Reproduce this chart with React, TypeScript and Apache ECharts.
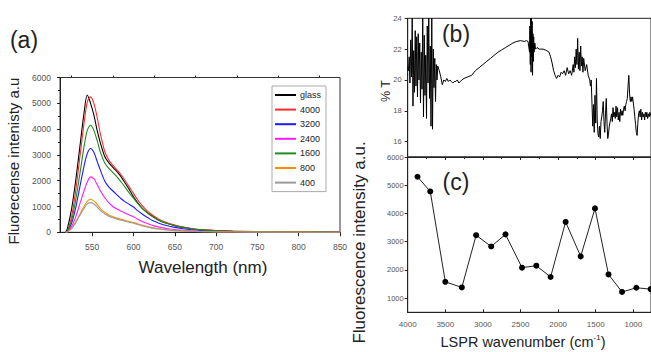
import React, { useEffect, useRef } from "react";
import * as echarts from "echarts";

// ---------- (a) fluorescence spectra ----------
const wavelength = [518, 520, 525, 530, 535, 540, 544, 548, 552, 556, 560, 565, 570, 575, 580, 585, 590, 595, 600, 605, 610, 615, 620, 625, 630, 640, 650, 660, 670, 680, 690, 700, 720, 750, 800, 850];
const glass = [0, 150, 900, 2000, 3300, 4600, 5320, 5000, 4550, 3950, 3450, 2950, 2700, 2520, 2350, 2150, 1900, 1650, 1380, 1150, 950, 800, 680, 580, 480, 350, 260, 190, 140, 100, 80, 60, 40, 25, 15, 10];
const s4000 = [0, 50, 600, 1600, 2900, 4200, 5050, 5250, 5000, 4450, 3800, 3150, 2800, 2600, 2420, 2230, 2000, 1750, 1510, 1260, 1050, 880, 740, 620, 520, 380, 280, 200, 150, 110, 85, 65, 45, 30, 20, 15];
const s3200 = [0, 30, 350, 950, 1750, 2550, 3050, 3250, 3100, 2750, 2400, 2000, 1760, 1600, 1450, 1300, 1180, 1080, 980, 840, 720, 610, 510, 430, 360, 260, 190, 140, 100, 75, 55, 45, 30, 20, 12, 8];
const s2400 = [0, 20, 220, 600, 1100, 1600, 1950, 2150, 2080, 1850, 1600, 1350, 1150, 1000, 900, 820, 740, 670, 600, 510, 430, 360, 300, 250, 210, 150, 110, 80, 60, 45, 35, 28, 20, 12, 8, 5];
const s1600 = [0, 40, 450, 1250, 2250, 3300, 3950, 4150, 3950, 3550, 3100, 2700, 2480, 2320, 2150, 1950, 1740, 1520, 1320, 1120, 950, 800, 680, 570, 480, 350, 260, 190, 140, 105, 80, 60, 40, 28, 18, 12];
const s800 = [0, 15, 150, 400, 700, 1000, 1200, 1280, 1220, 1080, 920, 780, 670, 600, 550, 500, 460, 420, 380, 330, 280, 240, 200, 170, 140, 100, 75, 55, 40, 30, 22, 18, 12, 8, 5, 3];
const s400 = [0, 15, 140, 370, 650, 920, 1100, 1150, 1100, 980, 840, 720, 620, 560, 510, 470, 430, 390, 350, 300, 255, 215, 180, 150, 125, 90, 65, 48, 35, 26, 20, 15, 10, 6, 4, 2];
const specNames = ["glass", "4000", "3200", "2400", "1600", "800", "400"];
const specValues = [glass, s4000, s3200, s2400, s1600, s800, s400];
const specColors = ["#000000", "#ff2a2a", "#1a1aff", "#ff1aff", "#1e8c1e", "#ff8c00", "#9a9a9a"];
const aTicks = [550, 600, 650, 700, 750, 800, 850];
const aMinorTicks = [525, 575, 625, 675, 725, 775, 825];

// ---------- (b) %T spectrum ----------
const ftirWn = [4000, 3990, 3980, 3970, 3960, 3950, 3940, 3930, 3920, 3910, 3900, 3890, 3880, 3870, 3860, 3850, 3840, 3830, 3820, 3810, 3800, 3790, 3780, 3770, 3760, 3750, 3740, 3730, 3720, 3710, 3700, 3690, 3680, 3670, 3660, 3650, 3640, 3630, 3620, 3610, 3600, 3580, 3560, 3540, 3520, 3500, 3480, 3460, 3440, 3420, 3400, 3380, 3360, 3340, 3320, 3300, 3280, 3250, 3200, 3150, 3100, 3050, 3000, 2950, 2900, 2850, 2800, 2750, 2700, 2650, 2600, 2550, 2500, 2450, 2420, 2400, 2380, 2375, 2370, 2365, 2360, 2355, 2350, 2345, 2340, 2335, 2330, 2325, 2320, 2310, 2300, 2280, 2250, 2200, 2150, 2120, 2100, 2080, 2060, 2040, 2020, 2000, 1980, 1960, 1940, 1920, 1900, 1880, 1860, 1840, 1820, 1800, 1790, 1780, 1770, 1760, 1750, 1740, 1730, 1720, 1710, 1700, 1690, 1680, 1670, 1660, 1640, 1620, 1600, 1580, 1570, 1560, 1550, 1540, 1530, 1520, 1510, 1500, 1490, 1480, 1470, 1460, 1450, 1440, 1430, 1420, 1410, 1400, 1390, 1380, 1370, 1360, 1350, 1340, 1330, 1320, 1300, 1290, 1280, 1270, 1260, 1250, 1240, 1230, 1220, 1210, 1200, 1190, 1180, 1170, 1160, 1150, 1140, 1130, 1120, 1110, 1100, 1090, 1080, 1070, 1060, 1050, 1040, 1030, 1020, 1010, 1000, 990, 980, 970, 960, 950, 940, 930, 920, 910, 900, 890, 880, 870, 860, 850, 840, 830, 820, 810, 800, 790, 780, 770, 760];
const ftirT = [20.8, 20.6, 21.5, 19.8, 22.6, 20.2, 24.0, 18.3, 21.9, 19.2, 23.2, 19.6, 22.8, 18.9, 23.0, 20.0, 22.4, 18.5, 21.8, 19.4, 24.0, 17.6, 22.9, 19.0, 21.6, 17.5, 23.5, 19.8, 24.0, 18.8, 22.2, 17.0, 24.0, 16.8, 22.0, 19.5, 21.4, 18.6, 21.0, 20.0, 20.9, 20.6, 20.2, 19.7, 20.0, 19.9, 20.1, 19.9, 20.0, 19.9, 19.8, 19.9, 19.9, 20.0, 19.8, 19.9, 20.0, 20.1, 20.2, 20.3, 20.6, 20.8, 21.0, 21.2, 21.4, 21.6, 21.8, 21.95, 22.1, 22.25, 22.4, 22.5, 22.55, 22.5, 22.55, 22.5, 21.8, 23.5, 21.0, 24.0, 20.5, 24.0, 21.5, 23.8, 20.3, 23.0, 21.2, 22.8, 21.8, 22.4, 22.0, 22.1, 22.0, 22.0, 21.9, 21.8, 21.5, 21.1, 20.6, 20.3, 20.1, 20.3, 20.2, 20.5, 20.4, 20.6, 20.3, 20.8, 20.4, 20.6, 20.3, 21.0, 20.5, 21.5, 20.8, 22.0, 21.0, 22.7, 20.7, 21.8, 20.6, 22.2, 20.9, 21.5, 20.5, 21.4, 20.6, 21.0, 20.3, 20.0, 19.6, 20.0, 18.5, 17.0, 18.4, 16.6, 19.0, 17.2, 20.1, 17.4, 16.5, 16.3, 17.0, 16.2, 17.3, 17.6, 18.0, 18.6, 17.3, 16.6, 17.8, 18.8, 17.2, 16.2, 16.5, 17.0, 17.5, 17.8, 17.3, 18.2, 17.6, 17.9, 17.5, 18.3, 17.6, 18.2, 17.4, 17.9, 17.3, 18.1, 17.7, 18.0, 17.7, 18.1, 18.3, 18.0, 18.4, 18.6, 18.8, 19.6, 20.3, 19.1, 18.6, 18.9, 18.6, 18.9, 18.5, 18.1, 17.6, 17.1, 16.6, 16.4, 17.2, 17.8, 18.0, 17.6, 18.1, 17.4, 17.9, 17.6, 17.8, 17.4, 17.9, 17.6, 17.9, 17.5, 17.8, 17.6, 17.9, 17.7, 17.8];
const bTicks = [16, 18, 20, 22, 24];

// ---------- (c) intensity vs LSPR wavenumber ----------
const lsprWn = [3870, 3700, 3500, 3280, 3090, 2890, 2700, 2480, 2290, 2100, 1900, 1700, 1510, 1330, 1150, 960, 770];
const lsprIntensity = [5300, 4780, 1580, 1380, 3230, 2830, 3260, 2080, 2150, 1750, 3700, 2480, 4180, 1840, 1220, 1370, 1320];
const cXTicks = [1000, 1500, 2000, 2500, 3000, 3500, 4000];
const cXMinorTicks = [1250, 1750, 2250, 2750, 3250, 3750];
const cYTicks = [1000, 2000, 3000, 4000, 5000, 6000];

const FONT = "'Liberation Sans', Arial, sans-serif";
const AXIS_COLOR = "#222";
const LABEL_COLOR = "#555";
const plain = (v: number) => String(v);

function buildOption() {
  const specSeries = specNames.map((name, k) => ({
    name,
    type: "line",
    xAxisIndex: 0,
    yAxisIndex: 0,
    showSymbol: false,
    smooth: 0.3,
    color: specColors[k],
    lineStyle: { width: 1.1, color: specColors[k] },
    data: wavelength.map((w, i) => [w, specValues[k][i]]),
  }));

  const axisLine = { show: true, lineStyle: { color: AXIS_COLOR, width: 1 } };

  return {
    animation: false,
    backgroundColor: "#ffffff",
    textStyle: { fontFamily: FONT },
    grid: [
      { left: 60, top: 77.5, width: 280, height: 154.8, show: true, borderColor: "#333", borderWidth: 1 },
      { left: 407.7, top: 18.3, width: 243.3, height: 138.7, show: true, borderColor: "#222", borderWidth: 1 },
      { left: 407.7, top: 157, width: 243.3, height: 155.3, show: true, borderColor: "#222", borderWidth: 1 },
    ],
    xAxis: [
      {
        gridIndex: 0, type: "value", min: 511, max: 850,
        axisLine,
        axisTick: { show: true, inside: false, length: 4, customValues: aTicks, lineStyle: { color: AXIS_COLOR } },
        axisLabel: { customValues: aTicks, formatter: plain, fontSize: 8.5, color: LABEL_COLOR, margin: 10, fontFamily: FONT },
        splitLine: { show: false },
      },
      {
        gridIndex: 0, type: "value", min: 511, max: 850,
        axisLine: { show: false },
        axisTick: { show: true, inside: false, length: 2, customValues: aMinorTicks, lineStyle: { color: AXIS_COLOR } },
        axisLabel: { show: false },
        splitLine: { show: false },
      },
      {
        gridIndex: 1, type: "value", min: 765, max: 4000, inverse: true,
        axisLine,
        axisTick: { show: true, inside: false, length: 3, customValues: cXTicks, lineStyle: { color: AXIS_COLOR } },
        axisLabel: { show: false },
        splitLine: { show: false },
      },
      {
        gridIndex: 2, type: "value", min: 765, max: 4000, inverse: true,
        axisLine,
        axisTick: { show: true, inside: true, length: 3, customValues: cXTicks, lineStyle: { color: AXIS_COLOR } },
        axisLabel: { customValues: cXTicks, formatter: plain, fontSize: 8, color: LABEL_COLOR, margin: 8, fontFamily: FONT },
        splitLine: { show: false },
      },
      {
        gridIndex: 2, type: "value", min: 765, max: 4000, inverse: true,
        axisLine: { show: false },
        axisTick: { show: true, inside: true, length: 2, customValues: cXMinorTicks, lineStyle: { color: AXIS_COLOR } },
        axisLabel: { show: false },
        splitLine: { show: false },
      },
    ],
    yAxis: [
      {
        gridIndex: 0, type: "value", min: 0, max: 6000, interval: 1000,
        axisLine,
        axisTick: { show: true, inside: false, length: 3, lineStyle: { color: AXIS_COLOR } },
        minorTick: { show: true, splitNumber: 2, length: 2, lineStyle: { color: AXIS_COLOR } },
        axisLabel: { formatter: plain, fontSize: 8.5, color: LABEL_COLOR, margin: 9, fontFamily: FONT },
        splitLine: { show: false },
      },
      {
        gridIndex: 1, type: "value", min: 15, max: 24,
        axisLine,
        axisTick: { show: true, inside: false, length: 3, customValues: bTicks, lineStyle: { color: AXIS_COLOR } },
        axisLabel: { customValues: bTicks, formatter: plain, fontSize: 7.5, color: LABEL_COLOR, margin: 6, fontFamily: FONT },
        splitLine: { show: false },
      },
      {
        gridIndex: 2, type: "value", min: 500, max: 6000,
        axisLine,
        axisTick: { show: true, inside: false, length: 3, customValues: cYTicks, lineStyle: { color: AXIS_COLOR } },
        axisLabel: { customValues: cYTicks, formatter: plain, fontSize: 7.5, color: LABEL_COLOR, margin: 4, fontFamily: FONT },
        splitLine: { show: false },
      },
    ],
    legend: {
      data: specNames,
      orient: "vertical",
      left: 272,
      top: 86,
      icon: "rect",
      itemWidth: 21,
      itemHeight: 2,
      itemGap: 3.6,
      padding: [3.5, 5, 3.5, 3],
      borderColor: "#aaa",
      borderWidth: 1,
      backgroundColor: "#fff",
      selectedMode: false,
      textStyle: { fontSize: 9, lineHeight: 11, color: "#222", fontFamily: FONT, padding: [0, 0, 0, -1] },
    },
    series: [
      ...specSeries,
      {
        name: "%T",
        type: "line",
        xAxisIndex: 2,
        yAxisIndex: 1,
        showSymbol: false,
        color: "#000",
        lineStyle: { width: 1, color: "#000" },
        data: ftirWn.map((w, i) => [w, ftirT[i]]),
      },
      {
        name: "LSPR",
        type: "line",
        xAxisIndex: 3,
        yAxisIndex: 2,
        symbol: "circle",
        symbolSize: 6,
        color: "#000",
        itemStyle: { color: "#000" },
        lineStyle: { width: 1, color: "#222" },
        data: lsprWn.map((w, i) => [w, lsprIntensity[i]]),
      },
    ],
    graphic: [
      { type: "text", x: 24, y: 40, style: { text: "(a)", fontSize: 23, fill: "#222", align: "center", verticalAlign: "middle", fontFamily: FONT } },
      { type: "text", x: 456, y: 34, style: { text: "(b)", fontSize: 23, fill: "#222", align: "center", verticalAlign: "middle", fontFamily: FONT } },
      { type: "text", x: 456, y: 182, style: { text: "(c)", fontSize: 23, fill: "#222", align: "center", verticalAlign: "middle", fontFamily: FONT } },
      { type: "text", x: 13, y: 161, rotation: Math.PI / 2, style: { text: "Fluorecense intenisty a.u", fontSize: 15, fill: "#222", align: "center", verticalAlign: "middle", fontFamily: FONT } },
      { type: "text", x: 203, y: 267, style: { text: "Wavelength (nm)", fontSize: 17, fill: "#222", align: "center", verticalAlign: "middle", fontFamily: FONT } },
      { type: "text", x: 386, y: 91, rotation: Math.PI / 2, style: { text: "% T", fontSize: 12.5, fill: "#222", align: "center", verticalAlign: "middle", fontFamily: FONT } },
      { type: "text", x: 359, y: 242.5, rotation: Math.PI / 2, style: { text: "Fluorescence intensity a.u.", fontSize: 17, fill: "#222", align: "center", verticalAlign: "middle", fontFamily: FONT } },
      {
        type: "text", x: 523, y: 342,
        style: {
          text: "{a|LSPR wavenumber (cm}{b|-1}{a|)}",
          align: "center", verticalAlign: "middle", fontFamily: FONT, fill: "#222",
          rich: {
            a: { fontSize: 14.5, fill: "#222", fontFamily: FONT },
            b: { fontSize: 8, fill: "#222", fontFamily: FONT, padding: [0, 0, 9, 0] },
          },
        },
      },
    ],
  };
}

export default function App() {
  const ref = useRef<HTMLDivElement>(null);
  useEffect(() => {
    if (!ref.current) return;
    const chart = echarts.init(ref.current, null, { renderer: "svg" });
    chart.setOption(buildOption() as any);
    return () => chart.dispose();
  }, []);
  return (
    <div
      ref={ref}
      style={{ position: "fixed", left: 0, top: 0, width: 651, height: 352, background: "#fff" }}
    />
  );
}
